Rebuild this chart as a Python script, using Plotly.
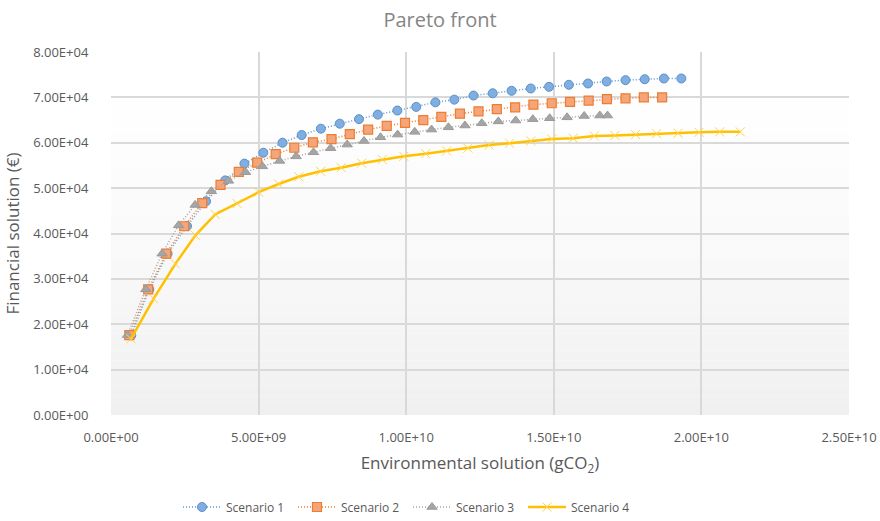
import plotly.graph_objects as go

# Environmental solution (gCO2, in units of 1e9) and financial solution (€, in units of 1e4)
s1_env = [0.685, 1.296, 1.917, 2.575, 3.22, 3.87, 4.52, 5.16, 5.81, 6.46, 7.11, 7.75, 8.40, 9.04, 9.70,
          10.34, 10.99, 11.63, 12.28, 12.93, 13.57, 14.22, 14.84, 15.51, 16.16, 16.79, 17.43, 18.08, 18.73, 19.32]
s1_fin = [1.755, 2.77, 3.555, 4.163, 4.71, 5.17, 5.54, 5.78, 6.00, 6.17, 6.31, 6.42, 6.52, 6.62, 6.71,
          6.79, 6.89, 6.95, 7.04, 7.09, 7.145, 7.196, 7.233, 7.277, 7.306, 7.35, 7.38, 7.40, 7.416, 7.416]

s2_env = [0.62, 1.26, 1.87, 2.48, 3.09, 3.71, 4.33, 4.95, 5.58, 6.21, 6.84, 7.47, 8.09, 8.71, 9.34,
          9.96, 10.58, 11.19, 11.82, 12.45, 13.07, 13.69, 14.31, 14.93, 15.55, 16.18, 16.80, 17.43, 18.05, 18.67]
s2_fin = [1.76, 2.77, 3.555, 4.16, 4.67, 5.07, 5.36, 5.56, 5.75, 5.89, 6.01, 6.08, 6.19, 6.29, 6.37,
          6.44, 6.50, 6.57, 6.64, 6.69, 6.74, 6.78, 6.84, 6.87, 6.90, 6.93, 6.96, 6.98, 7.00, 7.00]

s3_env = [0.56, 1.18, 1.73, 2.29, 2.85, 3.40, 3.98, 4.56, 5.13, 5.71, 6.27, 6.86, 7.44, 8.00, 8.57,
          9.13, 9.71, 10.29, 10.86, 11.43, 11.99, 12.56, 13.12, 13.71, 14.29, 14.86, 15.45, 16.03, 16.56, 16.82]
s3_fin = [1.76, 2.77, 3.555, 4.18, 4.63, 4.93, 5.16, 5.35, 5.48, 5.60, 5.70, 5.79, 5.88, 5.96, 6.04,
          6.12, 6.18, 6.24, 6.29, 6.34, 6.38, 6.43, 6.47, 6.49, 6.52, 6.54, 6.56, 6.59, 6.60, 6.60]

s4_env = [0.675, 1.44, 2.18, 2.86, 3.53, 4.27, 5.00, 5.68, 6.36, 7.10, 7.80, 8.49, 9.19, 9.92, 10.66,
          11.37, 12.09, 12.81, 13.50, 14.22, 14.93, 15.66, 16.37, 17.07, 17.77, 18.48, 19.21, 19.92, 20.62, 21.32]
s4_fin = [1.68, 2.56, 3.33, 3.96, 4.42, 4.66, 4.91, 5.09, 5.25, 5.37, 5.45, 5.55, 5.63, 5.70, 5.76,
          5.82, 5.88, 5.95, 5.99, 6.04, 6.08, 6.10, 6.15, 6.16, 6.18, 6.20, 6.21, 6.23, 6.24, 6.24]

x_ticks = [0, 5e9, 1e10, 1.5e10, 2e10, 2.5e10]
y_ticks = [0, 1e4, 2e4, 3e4, 4e4, 5e4, 6e4, 7e4, 8e4]

def sci(v):
    return f"{v:.2E}"

FONT = "'Open Sans', Lato, sans-serif"
GREY = "#595959"

fig = go.Figure()

series = [
    ("Scenario 1", s1_env, s1_fin, dict(color="#5B9BD5", width=1.5, dash="1px,2px"),
     dict(symbol="circle", size=9, color="#7FAEE0", line=dict(color="#5B8FCB", width=1))),
    ("Scenario 2", s2_env, s2_fin, dict(color="#ED7D31", width=1.5, dash="1px,2px"),
     dict(symbol="square", size=9, color="#F4A57A", line=dict(color="#ED7D31", width=1.2))),
    ("Scenario 3", s3_env, s3_fin, dict(color="#A5A5A5", width=1.5, dash="1px,2px"),
     dict(symbol="triangle-up", size=9, color="#A5A5A5", line=dict(color="#9A9A9A", width=1))),
    ("Scenario 4", s4_env, s4_fin, dict(color="#FFC000", width=2.5),
     dict(symbol="x-thin", size=9, color="#FFC000", line=dict(color="#FFD34D", width=1))),
]

for name, xs, ys, line, marker in series:
    fig.add_trace(go.Scatter(
        x=[v * 1e9 for v in xs],
        y=[v * 1e4 for v in ys],
        mode="lines+markers",
        name=name,
        line=line,
        marker=marker,
    ))

# Soft vertical gradient (white at top, light grey at bottom) behind the plot area
n_bands = 40
for i in range(n_bands):
    t = i / (n_bands - 1)
    level = round(255 - 15 * t ** 1.5)
    fig.add_shape(
        type="rect", xref="x domain", yref="y domain",
        x0=0, x1=1, y0=1 - (i + 1) / n_bands, y1=1 - i / n_bands,
        fillcolor=f"rgb({level},{level},{level})", line=dict(width=0), layer="below",
    )

fig.update_layout(
    width=880,
    height=521,
    paper_bgcolor="white",
    plot_bgcolor="white",
    margin=dict(l=111, r=31, t=52, b=106, autoexpand=False),
    font=dict(family=FONT, color=GREY, size=13),
    title=dict(text="Pareto front", x=0.5, xanchor="center", y=1 - 20 / 521, yanchor="middle",
               font=dict(size=20, color="#858585", family=FONT)),
    legend=dict(orientation="h", x=(178 - 111) / 738, xanchor="left", yref="container", y=1 - 507 / 521,
                yanchor="middle", font=dict(size=12, color=GREY), itemwidth=38,
                entrywidth=62, tracegroupgap=0),
    showlegend=True,
)

fig.update_xaxes(
    range=[0, 2.5e10],
    tickvals=x_ticks,
    ticktext=[sci(v) for v in x_ticks],
    ticks="outside", ticklen=10, tickcolor="rgba(0,0,0,0)",
    showgrid=True, gridcolor="#D9D9D9", gridwidth=1.5,
    zeroline=False, showline=False,
    tickfont=dict(size=13, color=GREY),
    title=dict(text="Environmental solution (gCO<sub>2</sub>)", font=dict(size=17, color=GREY), standoff=12),
)
fig.update_yaxes(
    range=[0, 8e4],
    tickvals=y_ticks,
    ticktext=[sci(v) for v in y_ticks],
    ticks="outside", ticklen=19, tickcolor="rgba(0,0,0,0)",
    showgrid=True, gridcolor="#D9D9D9", gridwidth=1.5,
    zeroline=False, showline=False,
    tickfont=dict(size=13, color=GREY),
    title=dict(text="Financial solution (€)", font=dict(size=17, color=GREY), standoff=9),
)

fig.write_html("out.html")
